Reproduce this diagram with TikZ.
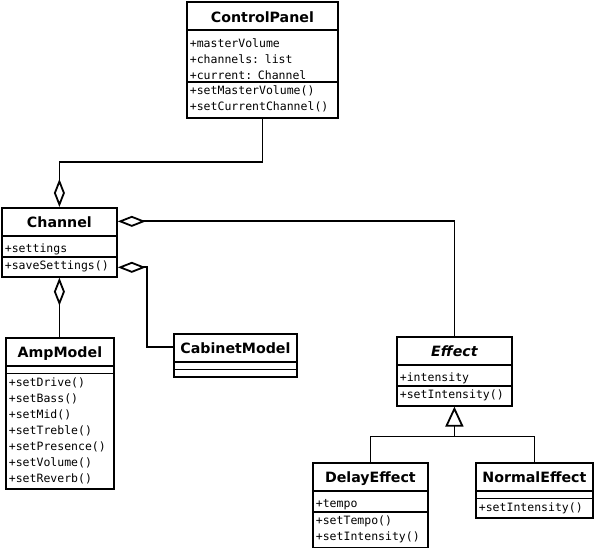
\documentclass[tikz,border=0pt]{standalone}
\usepackage{fontspec}
\setmainfont{DejaVu Sans}
\setmonofont{DejaVu Sans Mono}
\usepackage{tikz}
\usetikzlibrary{shapes.multipart, arrows.meta, calc}
\setlength{\parindent}{0pt}

\newcommand{\umlfont}{\fontsize{11.5pt}{16pt}\selectfont\ttfamily}
\newcommand{\classname}[1]{\makebox[\linewidth][c]{\rmfamily\bfseries\fontsize{14.2pt}{16pt}\selectfont\rule[-6pt]{0pt}{24pt}#1}}
\newcommand{\astrut}{\rule[-1pt]{0pt}{16pt}}
\newcommand{\ostrut}{\rule[-5pt]{0pt}{16pt}}
\newcommand{\nopart}{\rule{0pt}{4pt}}

\begin{document}
\begin{tikzpicture}[
    x=1pt, y=-1pt,
    umlclass/.style = {rectangle split, rectangle split parts=3, draw, line width=1.8pt, anchor=north west, inner xsep=3pt, inner ysep=1pt, font=\umlfont, align=left},
    aggr/.style = {line width=1.8pt, {Diamond[fill=white, length=28pt, width=11pt]}-},
    inherit/.style = {line width=1.8pt, {Triangle[fill=white, length=20pt, width=18pt]}-}
]
    \useasboundingbox (0,0) rectangle (595,548);

    % Classes
    \node[umlclass, text width=145pt] (panel) at (186,1.5) {\classname{ControlPanel}
        \nodepart{second}\astrut+masterVolume\\+channels: list\\+current: Channel\astrut
        \nodepart{third}\ostrut+setMasterVolume()\\+setCurrentChannel()\ostrut};
    \node[umlclass, text width=109pt] (channel) at (1,207) {\classname{Channel}
        \nodepart{second}\astrut+settings\astrut
        \nodepart{third}\ostrut+saveSettings()\ostrut};
    \node[umlclass, text width=102pt] (amp) at (5,337) {\classname{AmpModel}
        \nodepart{second}\nopart
        \nodepart{third}\ostrut+setDrive()\\+setBass()\\+setMid()\\+setTreble()\\+setPresence()\\+setVolume()\\+setReverb()\ostrut};
    \node[umlclass, text width=117pt] (cabinet) at (173,333) {\classname{CabinetModel}
        \nodepart{second}\nopart
        \nodepart{third}\nopart};
    \node[umlclass, text width=109pt] (effect) at (396,336) {\classname{\itshape Effect}
        \nodepart{second}\astrut+intensity\astrut
        \nodepart{third}\ostrut+setIntensity()\ostrut};
    \node[umlclass, text width=109pt] (delay) at (312,462) {\classname{DelayEffect}
        \nodepart{second}\astrut+tempo\astrut
        \nodepart{third}\ostrut+setTempo()\\+setIntensity()\ostrut};
    \node[umlclass, text width=111pt] (normal) at (475,462) {\classname{NormalEffect}
        \nodepart{second}\nopart
        \nodepart{third}\ostrut+setIntensity()\ostrut};

    % Aggregations
    \draw[aggr] (channel.north) -- ++(0,-45) -| (panel.south);
    \draw[aggr] ($(channel.north east)!.5!(channel.text split east)$) -| (effect.north);
    \draw[aggr] ($(channel.two split east)!.5!(channel.south east)$) -- ++(29,0) |- ($(cabinet.north west)!.5!(cabinet.text split west)$);
    \draw[aggr] (channel.south) -- (channel.south |- amp.north);

    % Inheritance
    \draw[inherit] (effect.south) -- ++(0,30) coordinate (fork) -| (delay.north);
    \draw[line width=1.8pt] (fork) -| (normal.north);
\end{tikzpicture}
\end{document}
